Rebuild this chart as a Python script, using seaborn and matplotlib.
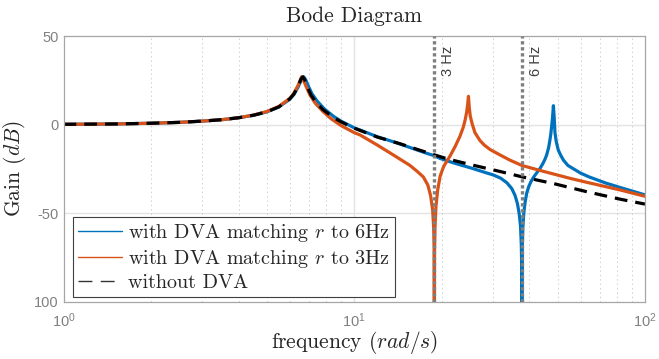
import numpy as np
import pandas as pd
import matplotlib
matplotlib.use("Agg")
import matplotlib.pyplot as plt
from matplotlib.lines import Line2D
from matplotlib.ticker import LogLocator, NullFormatter
import seaborn as sns

# frequency (rad/s) and gain (dB)
w_none = [1.0, 1.5, 2.0, 2.5, 3.0, 3.5, 4.0, 4.5, 5.0, 5.5, 6.0, 6.2, 6.4, 6.55,
          6.65, 6.75, 6.9, 7.1, 7.4, 7.8, 8.5, 9.0, 10.0, 12.0, 14.4, 16.8,
          18.85, 21.0, 25.4, 31.9, 37.7, 48.4, 63.0, 82.0, 100.0]
g_none = [0.2, 0.4, 0.8, 1.3, 2.0, 2.8, 3.9, 5.3, 7.2, 10.0, 14.6, 17.3, 21.4, 25.6,
          27.0, 25.4, 21.1, 16.7, 12.5, 8.5, 4.0, 1.6, -2.0, -7.0, -10.8, -14.4,
          -17.0, -19.4, -22.7, -26.5, -29.4, -33.2, -37.8, -42.0, -44.8]

w_3hz = [1.0, 1.5, 2.0, 2.5, 3.0, 3.5, 4.0, 4.5, 5.0, 5.5, 6.0, 6.2, 6.4, 6.5,
         6.59, 6.7, 6.85, 7.05, 7.35, 7.8, 8.3, 9.0, 10.0, 10.47, 12.0, 13.6,
         15.55, 16.5, 17.28, 17.9, 18.3, 18.6, 18.75, 18.82, 18.85, 18.88, 18.95,
         19.1, 19.35, 19.74, 20.3, 21.0, 21.36, 22.2, 23.1, 23.7, 24.05, 24.35,
         24.55, 24.7, 24.85, 25.05, 25.4, 26.0, 27.07, 28.0, 29.3, 31.9, 34.3,
         37.7, 43.5, 48.4, 55.0, 63.0, 73.5, 82.0, 100.0]
g_3hz = [0.2, 0.4, 0.8, 1.3, 2.0, 2.8, 3.9, 5.4, 7.4, 10.3, 14.8, 17.8, 22.0, 24.5,
         27.0, 24.8, 21.0, 16.5, 12.0, 7.5, 3.5, -0.5, -4.5, -5.8, -11.5, -17.0,
         -23.0, -26.5, -29.5, -34.0, -40.0, -48.0, -58.0, -70.0, -130.0, -72.0, -58.0,
         -46.0, -37.0, -29.0, -23.5, -19.6, -17.6, -12.5, -6.5, -1.5, 2.5, 7.0,
         11.5, 16.0, 10.0, 5.0, 0.8, -4.5, -9.0, -11.5, -14.0, -17.3, -20.0,
         -23.0, -25.8, -27.8, -30.2, -32.5, -35.0, -36.8, -40.4]

w_6hz = [1.0, 1.5, 2.0, 2.5, 3.0, 3.5, 4.0, 4.5, 5.0, 5.5, 6.0, 6.2, 6.4, 6.55,
         6.7, 6.8, 6.95, 7.15, 7.45, 7.9, 8.5, 9.0, 10.0, 10.47, 12.0, 13.6,
         15.5, 17.7, 18.85, 19.7, 22.0, 25.4, 28.5, 30.0, 31.9, 33.5, 34.8, 35.7,
         36.4, 36.9, 37.3, 37.55, 37.65, 37.7, 37.75, 37.85, 38.0, 38.3, 38.7,
         39.2, 39.8, 40.5, 41.3, 42.4, 43.5, 44.5, 45.2, 45.9, 46.6, 47.1, 47.4,
         47.8, 48.1, 48.4, 48.7, 49.0, 49.5, 50.3, 51.3, 52.4, 54.3, 56.6, 60.0,
         64.3, 73.5, 82.0, 91.0, 100.0]
g_6hz = [0.2, 0.4, 0.8, 1.3, 2.0, 2.8, 3.9, 5.3, 7.2, 10.0, 14.3, 17.0, 21.0, 24.6,
         27.0, 25.5, 21.8, 17.5, 13.3, 8.8, 4.6, 2.0, -1.8, -3.0, -6.8, -9.6,
         -12.8, -16.1, -17.5, -19.0, -21.6, -24.6, -27.2, -28.3, -30.2, -32.8, -36.0, -39.8,
         -44.5, -50.0, -57.0, -68.0, -80.0, -130.0, -85.0, -68.0, -58.0, -49.5, -43.5,
         -38.5, -35.0, -32.2, -29.8, -27.2, -24.8, -22.0, -19.8, -17.0, -13.0, -8.5, -5.5,
         0.0, 4.5, 10.7, 4.0, -4.5, -9.5, -14.3, -17.3, -20.0, -23.0, -24.8, -27.3,
         -29.5, -33.0, -35.4, -37.6, -39.6]

labels = ["with DVA matching $r$ to 6Hz", "with DVA matching $r$ to 3Hz", "without DVA"]
colors = ["#0072BD", "#D95319", "black"]
marker_freqs = [18.85, 37.7]
marker_texts = ["3 Hz", "6 Hz"]
y_ticks = [-100, -50, 0, 50]
y_ticklabels = ["100", "-50", "0", "50"]

df = pd.concat([
    pd.DataFrame({"w": w_6hz, "gain": g_6hz, "case": labels[0]}),
    pd.DataFrame({"w": w_3hz, "gain": g_3hz, "case": labels[1]}),
    pd.DataFrame({"w": w_none, "gain": g_none, "case": labels[2]}),
])

sns.set_theme(style="white")
plt.rcParams["font.family"] = ["Liberation Sans", "DejaVu Sans"]
plt.rcParams["mathtext.fontset"] = "cm"

fig = plt.figure(figsize=(6.59, 3.59), dpi=100)
ax = fig.add_axes([0.0964, 0.1588, 0.8824, 0.7409])

grid_col = "#e3e3e3"
ax.set_xscale("log")
ax.set_xlim(1, 100)
ax.set_ylim(-100, 50)

# grid, drawn below the curves
for gy in [-50, 0]:
    ax.axhline(gy, color=grid_col, lw=1.0, zorder=0)
ax.axvline(10, color=grid_col, lw=1.0, zorder=0)
for dec in [1, 10]:
    for k in range(2, 10):
        ax.axvline(dec * k, color="#d0d0d0", lw=0.7, ls=(0, (1.5, 3)), zorder=0)

sns.lineplot(data=df, x="w", y="gain", hue="case", style="case",
             palette=dict(zip(labels, colors)),
             dashes={labels[0]: "", labels[1]: "", labels[2]: (4, 2.5)},
             estimator=None, sort=False, lw=2.3, legend=False, ax=ax)

for fq, txt in zip(marker_freqs, marker_texts):
    ax.axvline(fq, color="#7f7f7f", lw=2.4, ls=(0, (1, 0.8)), zorder=5)
    ax.text(fq * 1.115, 36, txt, rotation=90, ha="center", va="center",
            fontsize=10.5, color="#404040")

ax.set_yticks(y_ticks)
ax.set_yticklabels(y_ticklabels)
ax.xaxis.set_major_locator(LogLocator(base=10, numticks=5))
ax.xaxis.set_minor_locator(LogLocator(base=10, subs=np.arange(2, 10), numticks=20))
ax.xaxis.set_minor_formatter(NullFormatter())
ax.tick_params(axis="both", which="both", direction="in", colors="#808080",
               labelsize=10.5, labelcolor="#808080")
ax.tick_params(axis="both", which="major", length=4, width=0.8)
ax.tick_params(axis="x", which="minor", length=2.5, width=0.6)
ax.tick_params(axis="x", pad=7)
for sp in ax.spines.values():
    sp.set_color("#a6a6a6")
    sp.set_linewidth(0.9)

ax.set_title("Bode Diagram", fontsize=15.5, family="cmr10", pad=10)
ax.set_xlabel("frequency ($rad/s$)", fontsize=15.5, family="cmr10", labelpad=-1)
ax.set_ylabel("Gain ($dB$)", fontsize=15.5, family="cmr10", labelpad=4)

handles = [Line2D([], [], color=colors[0], lw=1.0),
           Line2D([], [], color=colors[1], lw=1.0),
           Line2D([], [], color="#333333", lw=1.0, dashes=(10, 6))]
leg = ax.legend(handles, labels, loc="lower left", bbox_to_anchor=(0.016, 0.018),
                prop={"family": "cmr10", "size": 14.5}, fancybox=False,
                framealpha=1, edgecolor="#404040", borderpad=0.25,
                labelspacing=0.2, handlelength=2.2, handletextpad=0.3,
                borderaxespad=0.0)
leg.get_frame().set_linewidth(0.8)

plt.savefig("out.png", dpi=100)
